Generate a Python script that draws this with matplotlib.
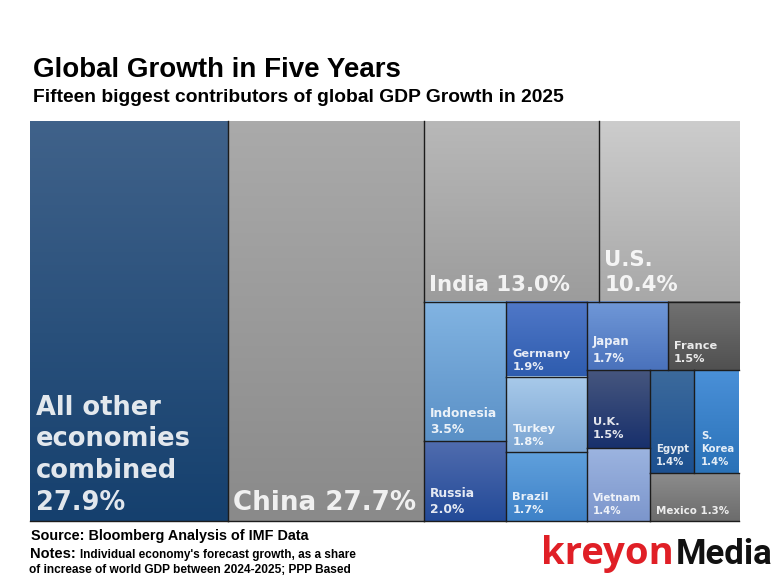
"""
usage : Treemap of the biggest contributors to global GDP growth in 2025
"""

import numpy as np
import matplotlib
matplotlib.use('Agg')
import matplotlib.pyplot as plt
from matplotlib.colors import LinearSegmentedColormap

names = ['All other\neconomies\ncombined', 'China', 'India', 'U.S.', 'Indonesia', 'Russia',
         'Germany', 'Turkey', 'Brazil', 'Japan', 'France', 'U.K.', 'Vietnam', 'Egypt', 'S.\nKorea', 'Mexico']
shares = [27.9, 27.7, 13.0, 10.4, 3.5, 2.0, 1.9, 1.8, 1.7, 1.7, 1.5, 1.5, 1.4, 1.4, 1.4, 1.3]
shareById = dict(zip(names, shares))

# cell styles : top colour, bottom colour, font size, gap under label, line spacing, label on one line
styles = {
    'All other\neconomies\ncombined': ('#40628a', '#15406e', 18.5, 11.5, 1.28, False),
    'China': ('#aaaaaa', '#8a8a8a', 18.8, 10.5, 1.28, True),
    'India': ('#b8b8b8', '#9c9c9c', 15.3, 11, 1.28, True),
    'U.S.': ('#cccccc', '#a8a8a8', 15.3, 11, 1.28, False),
    'Indonesia': ('#82b4e2', '#5a90c6', 8.8, 8, 1.28, False),
    'Russia': ('#506cae', '#234a98', 8.8, 8, 1.28, False),
    'Germany': ('#5078c8', '#2e5cae', 8.2, 7, 1.4, False),
    'Turkey': ('#a8caea', '#7aa4d2', 8.2, 7, 1.4, False),
    'Brazil': ('#60a0dc', '#3e82c8', 8.2, 8, 1.4, False),
    'Japan': ('#7098d8', '#4a72bc', 8.4, 8, 1.4, False),
    'France': ('#727272', '#505050', 8.2, 8, 1.4, False),
    'U.K.': ('#46567e', '#18306c', 8.2, 10, 1.4, False),
    'Vietnam': ('#9cb4e0', '#7c96cc', 7.4, 7, 1.4, False),
    'Egypt': ('#3c6a9c', '#1c5090', 7.3, 8, 1.4, False),
    'S.\nKorea': ('#4a90d8', '#2a72b8', 7.3, 8, 1.4, False),
    'Mexico': ('#8c8c8c', '#6c6c6c', 7.4, 7, 1.28, True),
}

# nested slices : direction, children, weighting of each child (the source is not strictly to scale)
tree = ('x', [names[0], names[1],
              ('y', [('x', [names[2], names[3]]),
                     ('x', [('y', [names[4], names[5]]),
                            ('y', [names[6], names[7], names[8]], [0.985, 1.04, 1.0]),
                            ('y', [('x', [names[9], names[10]]),
                                   ('x', [('y', [names[11], names[12]]),
                                          ('y', [('x', [names[13], names[14]]), names[15]])])])])],
               [0.742, 1.0])])


def total(node):
    if isinstance(node, str):
        return shareById[node]
    return sum(total(child) for child in node[1])


def layout(node, x0, y0, x1, y1, cells):
    if isinstance(node, str):
        cells.append((node, x0, y0, x1, y1))
        return cells
    direction, children = node[0], node[1]
    bias = node[2] if len(node) > 2 else [1.0] * len(children)
    sizes = np.array([total(c) * b for c, b in zip(children, bias)])
    edges = np.concatenate([[0], np.cumsum(sizes) / sizes.sum()])
    for i, child in enumerate(children):
        if direction == 'x':
            span = x1 - x0
            layout(child, x0 + span * edges[i], y0, x0 + span * edges[i + 1], y1, cells)
        else:
            span = y1 - y0
            layout(child, x0, y0 + span * edges[i], x1, y0 + span * edges[i + 1], cells)
    return cells


left, top, right, bottom = 30, 121, 739, 521

fig = plt.figure(figsize=(7.77, 5.77), dpi=100)
ax = fig.add_axes([0, 0, 1, 1])
ax.axis('off')

gradient = np.linspace(0, 1, 128).reshape(-1, 1)
for name, x0, y0, x1, y1 in layout(tree, left, top, right, bottom, []):
    topColor, bottomColor, size, gap, spacing, oneLine = styles[name]
    cmap = LinearSegmentedColormap.from_list(name, [topColor, bottomColor])
    ax.imshow(gradient, cmap=cmap, extent=(x0, x1, y1, y0), aspect='auto', zorder=1, vmin=0, vmax=1)

    # only inner borders and the bottom rule are drawn
    if x0 > left:
        ax.plot([x0, x0], [y0, y1], color='#1c1c1c', lw=1.0, zorder=2)
    if y0 > top:
        ax.plot([x0, x1], [y0, y0], color='#1c1c1c', lw=1.0, zorder=2)
    if y1 >= bottom:
        ax.plot([x0, x1], [y1, y1], color='#1c1c1c', lw=1.0, zorder=2)

    value = f'{shareById[name]:.1f}%'
    label = f'{name} {value}' if oneLine else f'{name}\n{value}'
    pad = 5.5 if size > 15 else 6.5
    ax.text(x0 + pad, y1 - gap, label, color='white', alpha=0.88, fontsize=size, fontweight='bold',
            family='DejaVu Sans', ha='left', va='baseline', linespacing=spacing, zorder=3)

ax.set_xlim(0, 777)
ax.set_ylim(577, 0)

ax.text(33, 70, 'Global Growth in Five Years', fontsize=20, fontweight='bold', family='Liberation Sans', va='center')
ax.text(33, 98, 'Fifteen biggest contributors of global GDP Growth in 2025', fontsize=13.9, fontweight='bold',
        family='Liberation Sans', va='center')

ax.text(31, 536, 'Source: Bloomberg Analysis of IMF Data', fontsize=10.4, fontweight='bold',
        family='Liberation Sans', va='center')
ax.text(30, 554, 'Notes:', fontsize=10.5, fontweight='bold', family='Liberation Sans', va='center')
ax.text(80, 555, "Individual economy's forecast growth, as a share", fontsize=8.5, fontweight='bold',
        family='Liberation Sans', va='center')
ax.text(29, 570, 'of increase of world GDP between 2024-2025; PPP Based', fontsize=8.55, fontweight='bold',
        family='Liberation Sans', va='center')

ax.text(541.5, 564, 'kreyon', color='#e01f26', fontsize=27.5, family='Open Sans', fontweight='bold', va='baseline')
ax.text(676, 564, 'Media', color='#111111', fontsize=25, family='Roboto', fontweight='bold', va='baseline')

fig.savefig('out.png', dpi=100)
